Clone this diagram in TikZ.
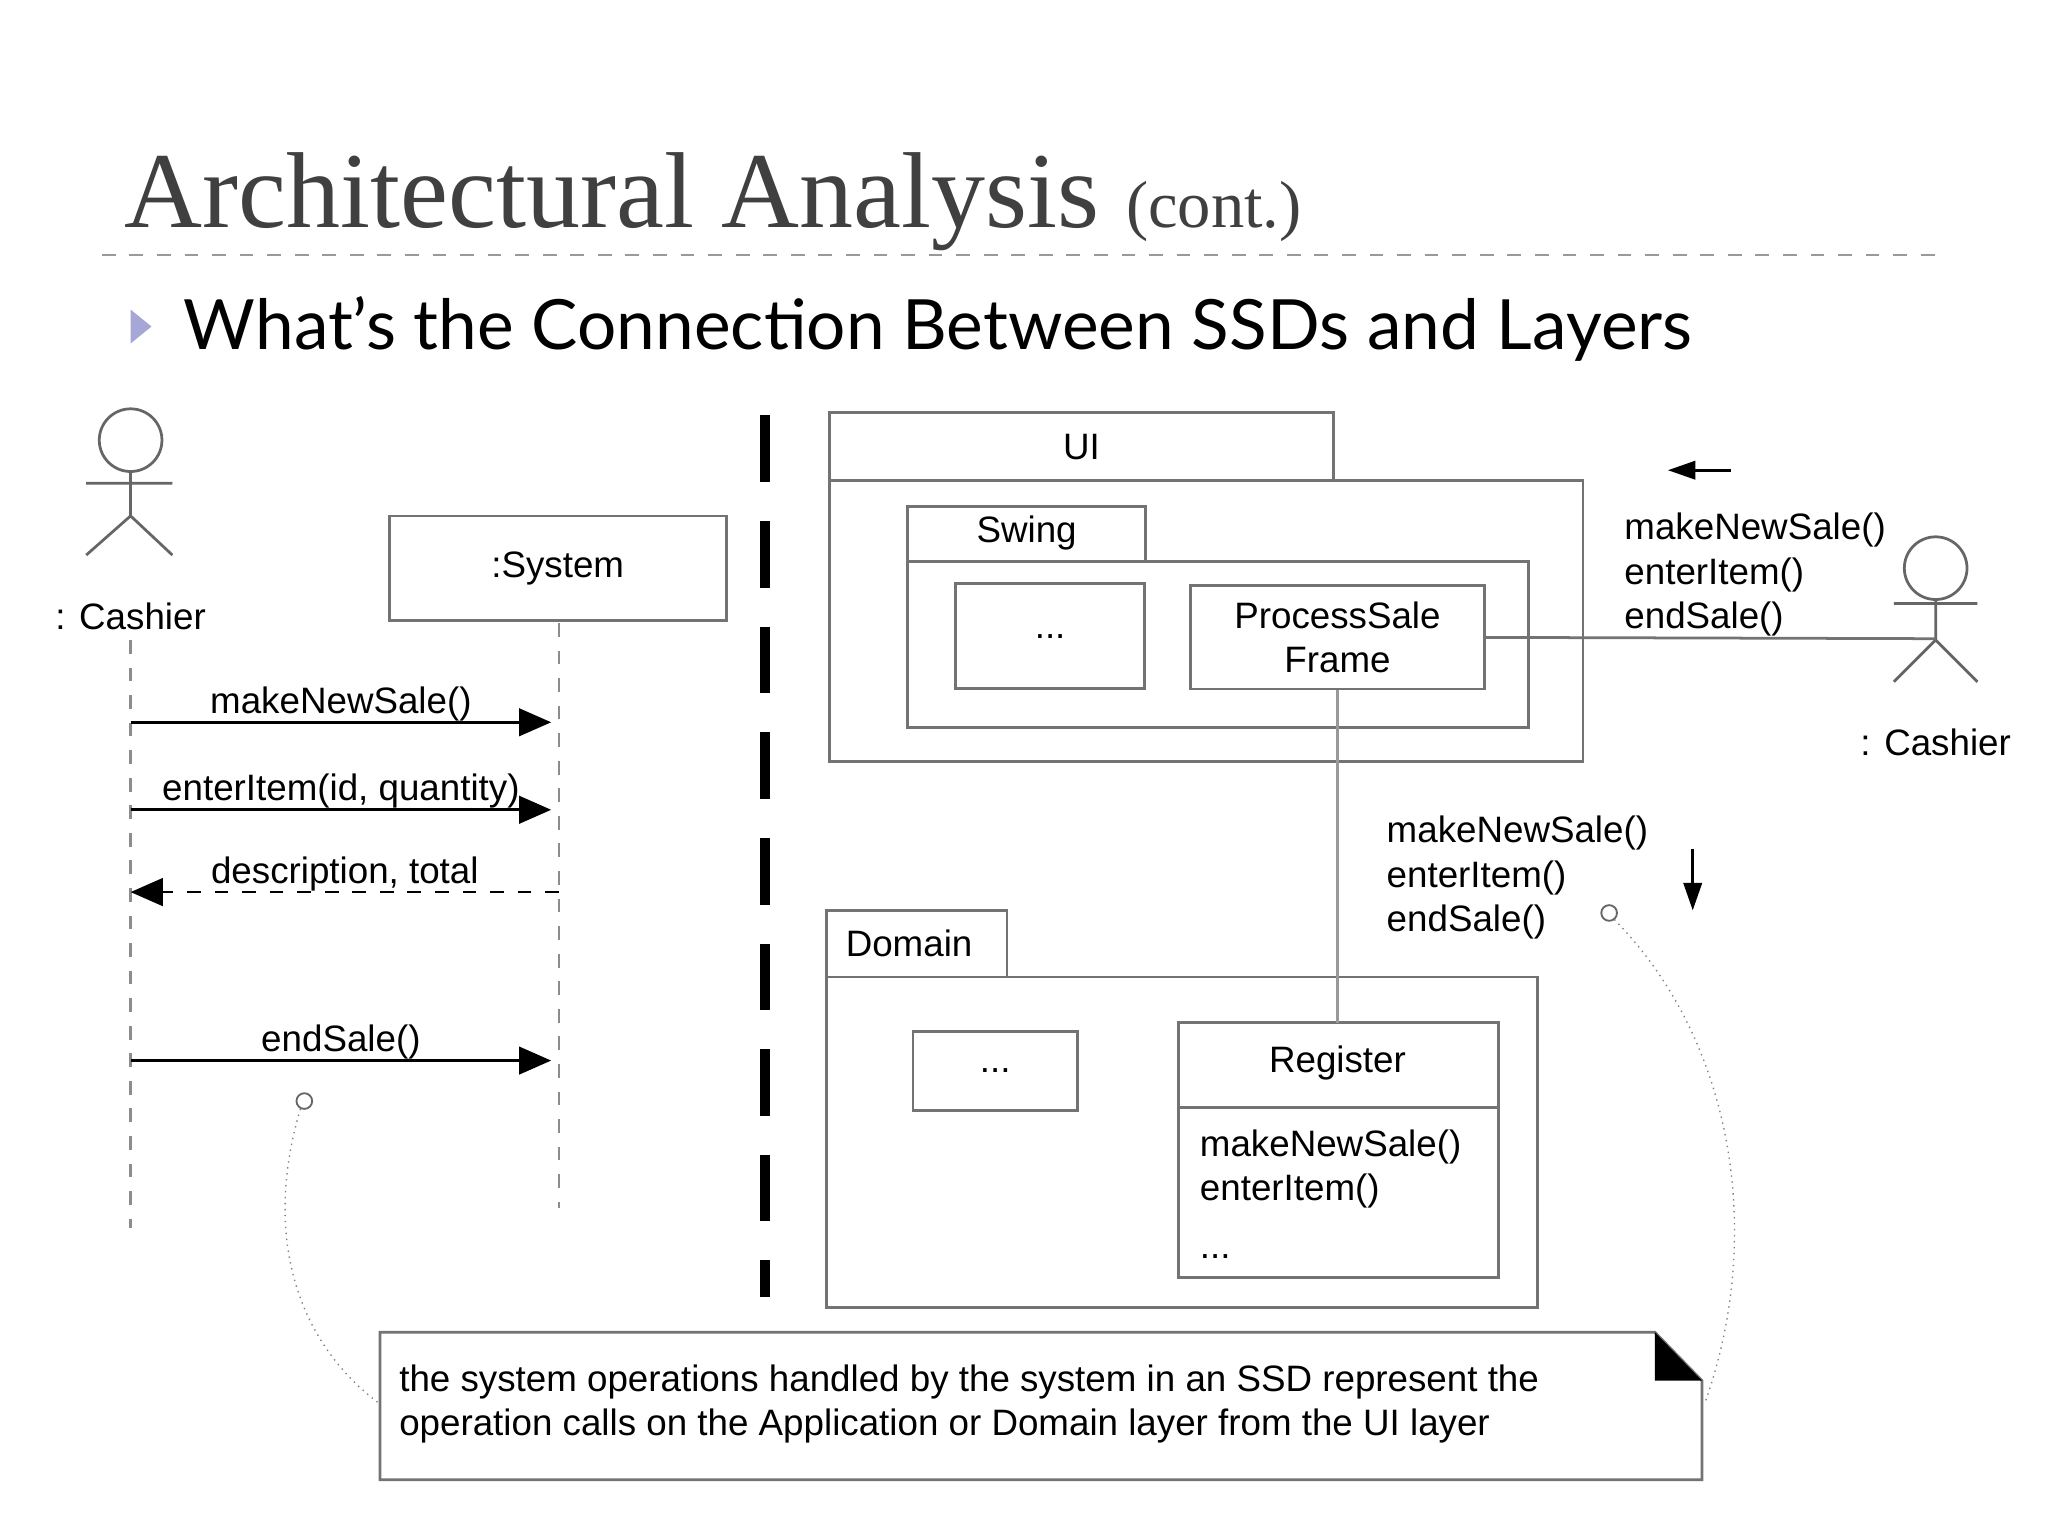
\documentclass[tikz,border=0pt]{standalone}
\usepackage{fontspec}
\setmainfont{Liberation Sans}
\newfontfamily\titlefont{Liberation Serif}
\newfontfamily\bulletfont{Lato}
\usetikzlibrary{arrows.meta}
\begin{document}
\begin{tikzpicture}[x=0.01cm,y=-0.01cm,
    box/.style={draw=black!55,line width=0.6pt},
    txt/.style={font=\fontsize{8}{9.7}\selectfont,inner sep=0pt},
    lifeline/.style={draw=black!45,dashed,line width=0.6pt},
    msg/.style={line width=0.6pt,-{Triangle[length=7pt,width=6pt]}},
    hint/.style={draw=black!50,line width=0.3pt,densely dotted}]
  \useasboundingbox (0,0) rectangle (1568,1176);
  % title and bullet
  \node[anchor=base west,inner sep=0pt,text=black!75] (title) at (95,174)
    {\titlefont\fontsize{23.5}{28}\selectfont Architectural Analysis {\fontsize{14.5}{17}\selectfont (cont.)}};
  \draw[black!40,dashed,line width=0.5pt] (78,195) -- (1490,195);
  \fill[black!45!blue!35] (100,237) -- (116,250) -- (100,263) -- cycle;
  \node[anchor=west,inner sep=0pt] (bullet) at (140,252)
    {\bulletfont\fontsize{15.1}{18}\selectfont What’s the Connection Between SSDs and Layers};
  % left actor
  \draw[black!60,line width=0.6pt] (100,337) circle (24);
  \draw[black!60,line width=0.6pt] (100,361) -- (100,395) (66,370) -- (132,370)
    (66,425) -- (100,395) -- (132,425);
  \node[txt] (cashL) at (100,472) {: Cashier};
  \node[box,minimum width=258*0.01cm,minimum height=80*0.01cm,txt] (sys) at (427,435) {:System};
  \coordinate (L1) at (100,490); \coordinate (L2) at (100,940);
  \coordinate (S1) at (428,477); \coordinate (S2) at (428,925);
  \draw[lifeline] (L1) -- (L2);
  \draw[lifeline] (S1) -- (S2);
  \coordinate (m1a) at (100,553); \coordinate (m1b) at (422,553);
  \coordinate (m2a) at (100,620); \coordinate (m2b) at (422,620);
  \coordinate (m3a) at (428,683); \coordinate (m3b) at (100,683);
  \coordinate (m4a) at (100,812); \coordinate (m4b) at (422,812);
  \draw[msg] (m1a) -- node[txt,above=0pt] {makeNewSale()} (m1b);
  \draw[msg] (m2a) -- node[txt,above=0pt] {enterItem(id, quantity)} (m2b);
  \draw[msg,dashed] (m3a) -- node[txt,above=0pt] {description, total} (m3b);
  \draw[msg] (m4a) -- node[txt,above=0pt] {endSale()} (m4b);
  % separator
  \draw[line width=2.2pt,dash pattern=on 14.5pt off 8.5pt] (586,318) -- (586,993);
  % UI layer
  \draw[box] (635,316) rectangle (1021,368);
  \draw[box] (635,368) rectangle (1212,583);
  \node[txt] (ui) at (828,342) {UI};
  \draw[box] (695,388) rectangle (877,430);
  \draw[box] (695,430) rectangle (1170,557);
  \node[txt] (swing) at (786,408) {Swing};
  \node[box,minimum width=145*0.01cm,minimum height=80*0.01cm,txt] (dotsA) at (804,487) {...};
  \node[box,minimum width=225*0.01cm,minimum height=79*0.01cm,txt,align=center] (frame) at (1024,488) {ProcessSale\\Frame};
  % right actor
  \draw[black!60,line width=0.6pt] (1482,435) circle (24);
  \draw[black!60,line width=0.6pt] (1482,459) -- (1482,490) (1450,462) -- (1514,462)
    (1450,522) -- (1482,490) -- (1514,522);
  \coordinate (cashR) at (1482,489);
  \node[txt] (cashRl) at (1482,568) {: Cashier};
  \draw[black!55,line width=0.6pt] (frame.east) -- (cashR);
  \node[txt,anchor=west,align=left] (opsR) at (1243,440) {makeNewSale()\\enterItem()\\endSale()};
  \draw[line width=0.6pt,-{Triangle[length=6pt,width=4pt]}] (1325,360) -- (1277,360);
  % domain layer
  \draw[box] (633,697) rectangle (771,748);
  \draw[box] (633,748) rectangle (1177,1001);
  \node[txt] (domain) at (696,722) {Domain};
  \node[box,minimum width=126*0.01cm,minimum height=60*0.01cm,txt] (dotsB) at (762,820) {...};
  \draw[box] (902,783) rectangle (1147,978);
  \draw[box] (902,848) -- (1147,848);
  \node[txt] (reg) at (1024,814) {Register};
  \coordinate (regtop) at (1024,783);
  \node[txt,anchor=north west,align=left] (regops) at (918,864) {makeNewSale()\\enterItem()\\[3pt]...};
  \draw[black!40,line width=0.6pt] (frame.south) -- (regtop);
  \node[txt,anchor=west,align=left] (opsD) at (1061,672) {makeNewSale()\\enterItem()\\endSale()};
  \draw[line width=0.6pt,-{Triangle[length=6pt,width=4pt]}] (1296,650) -- (1296,697);
  % note
  \draw[box,fill=white] (291,1020) -- (1267,1020) -- (1303,1057) -- (1303,1133) -- (291,1133) -- cycle;
  \fill (1267,1020) -- (1303,1057) -- (1267,1057) -- cycle;
  \node[txt,anchor=west,align=left] (note) at (305,1075)
    {the system operations handled by the system in an SSD represent the\\
     operation calls on the Application or Domain layer from the UI layer};
  \draw[black!60,line width=0.4pt] (233,843) circle (6);
  \draw[black!60,line width=0.4pt] (1232,699) circle (6);
  \coordinate (nL) at (291,1075); \coordinate (nR) at (1305,1075);
  \draw[hint] (230,849) .. controls (200,950) and (230,1030) .. (nL);
  \draw[hint] (1236,704) .. controls (1330,800) and (1350,950) .. (nR);
\end{tikzpicture}
\end{document}
